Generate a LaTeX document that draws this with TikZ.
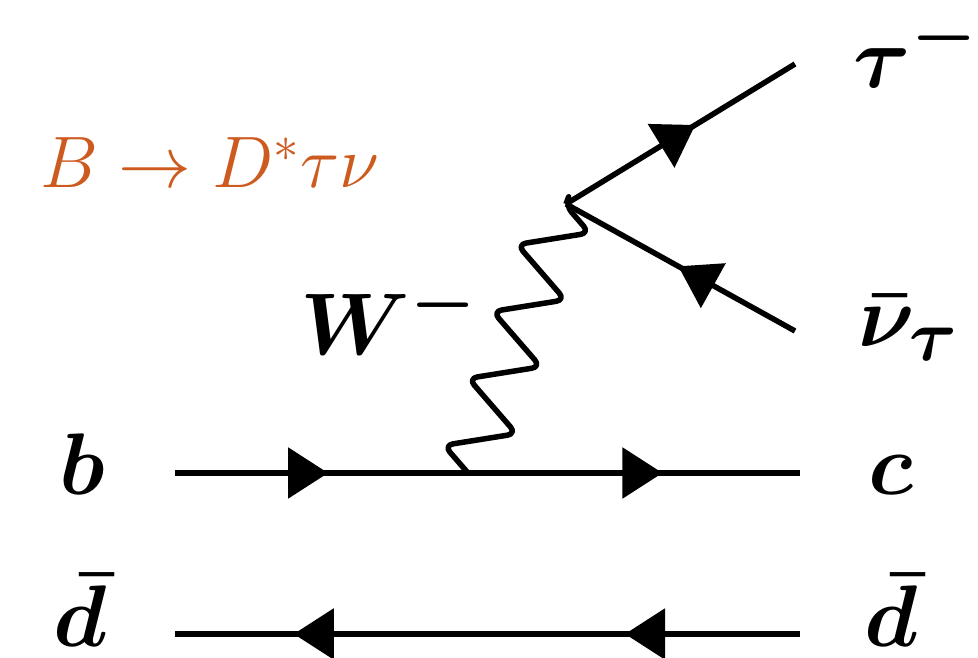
\documentclass[tikz,border=0pt]{standalone}
\usepackage{amsmath}
\usepackage{tikz}
\usetikzlibrary{arrows.meta, decorations.markings, decorations.pathmorphing}

\definecolor{decayorange}{RGB}{205,90,30}

\begin{document}
\begin{tikzpicture}[
    x=0.01cm, y=-0.01cm,
    fermion/.style={draw=black, line width=0.055cm},
    farrow/.style={postaction={decorate, decoration={markings, mark=at position #1 with {\arrow{Triangle[length=0.4cm, width=0.5cm]}}}}},
    boson/.style={draw=black, line width=0.055cm, line join=round, rounded corners=0.09cm, decorate, decoration={zigzag, segment length=0.712cm, amplitude=0.32cm}},
    particle/.style={inner sep=0pt, font=\fontsize{28}{34}\selectfont\boldmath},
    title/.style={inner sep=0pt, text=decayorange, font=\fontsize{21}{25}\selectfont}
]
    \useasboundingbox (0,0) rectangle (978,658);

    % Vertices and line ends
    \coordinate (bin) at (175,473);
    \coordinate (cout) at (800,473);
    \coordinate (dbarin) at (800,634);
    \coordinate (dbarout) at (175,634);
    \coordinate (vq) at (468,473);
    \coordinate (vl) at (566,204);
    \coordinate (tauend) at (795,64);
    \coordinate (nuend) at (795,331);

    % Labels
    \node[title, anchor=base west] (decay) at (40,188) {$B \rightarrow D^{*}\tau\nu$};
    \node[particle, anchor=base] (b) at (82,495) {$b$};
    \node[particle, anchor=base] (c) at (891,495) {$c$};
    \node[particle, anchor=base] (dbarL) at (80,647) {$\bar{d}$};
    \node[particle, anchor=base] (dbarR) at (891,647) {$\bar{d}$};
    \node[particle, anchor=base west] (tau) at (853,88) {$\tau^{-}$};
    \node[particle, anchor=base west] (nubar) at (858,347) {$\bar{\nu}_{\tau}$};
    \node[particle, anchor=base west] (W) at (300,355) {$W^{-}$};

    % Quark lines
    \draw[fermion, farrow=0.245, farrow=0.78] (bin) -- (cout);
    \draw[fermion, farrow=0.28, farrow=0.81] (dbarin) -- (dbarout);

    % W boson
    \draw[boson] (vq) -- (vl);

    % Leptons
    \draw[fermion, farrow=0.565] (vl) -- (tauend);
    \draw[fermion, farrow=0.51] (nuend) -- (vl);
\end{tikzpicture}
\end{document}
